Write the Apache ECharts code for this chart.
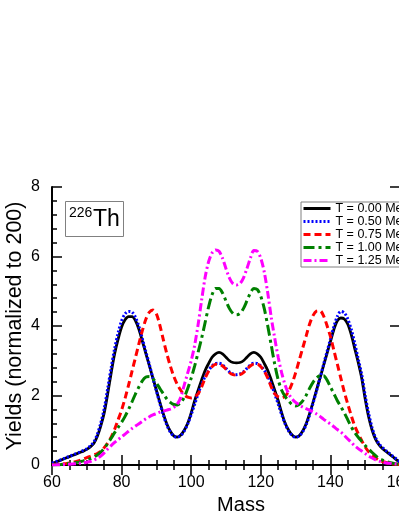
<!DOCTYPE html>
<html><head><meta charset="utf-8">
<script src="https://cdn.jsdelivr.net/npm/echarts@6/dist/echarts.min.js"></script>
<style>html,body{margin:0;padding:0;background:#fff}#c{width:399px;height:516px}</style>
</head><body><div id="c"></div>
<script>
const masses = [60,61,62,63,64,65,66,67,68,69,70,71,72,73,74,75,76,77,78,79,80,81,82,83,84,85,86,87,88,89,90,91,92,93,94,95,96,97,98,99,100,101,102,103,104,105,106,107,108,109,110,111,112,113,114,115,116,117,118,119,120,121,122,123,124,125,126,127,128,129,130,131,132,133,134,135,136,137,138,139,140,141,142,143,144,145,146,147,148,149,150,151,152,153,154,155,156,157,158,159,160];
const seriesNames = ['T = 0.00 MeV','T = 0.50 MeV','T = 0.75 MeV','T = 1.00 MeV','T = 1.25 MeV'];
const yT000 = [0.04,0.08,0.12,0.16,0.2,0.24,0.28,0.32,0.36,0.4,
 0.45,0.52,0.62,0.82,1.12,1.5,2.05,2.65,3.2,3.62,
 3.97,4.18,4.27,4.27,4.15,3.9,3.55,3.2,2.85,2.5,
 2.15,1.8,1.47,1.18,0.97,0.84,0.8,0.86,1.0,1.2,
 1.5,1.85,2.15,2.45,2.72,2.92,3.1,3.2,3.24,3.2,
 3.1,3.0,2.95,2.94,2.95,3.0,3.1,3.2,3.24,3.2,
 3.1,2.92,2.72,2.45,2.15,1.85,1.5,1.2,1.0,0.86,
 0.8,0.84,0.97,1.18,1.47,1.8,2.15,2.5,2.85,3.2,
 3.55,3.9,4.15,4.23,4.2,4.05,3.75,3.35,2.95,2.5,
 1.9,1.38,1.0,0.74,0.58,0.47,0.39,0.31,0.23,0.15,0.08];
const yT050 = [0.05,0.09,0.13,0.17,0.21,0.25,0.29,0.33,0.37,0.42,
 0.47,0.55,0.66,0.88,1.2,1.62,2.2,2.8,3.35,3.8,
 4.15,4.35,4.42,4.4,4.25,3.98,3.62,3.25,2.88,2.5,
 2.13,1.77,1.43,1.15,0.95,0.83,0.8,0.85,0.98,1.18,
 1.45,1.75,2.05,2.32,2.55,2.72,2.85,2.92,2.93,2.88,
 2.78,2.68,2.62,2.6,2.62,2.68,2.78,2.88,2.93,2.92,
 2.85,2.72,2.55,2.32,2.05,1.75,1.45,1.18,0.98,0.85,
 0.8,0.83,0.95,1.15,1.43,1.77,2.13,2.5,2.88,3.25,
 3.62,3.98,4.28,4.42,4.38,4.2,3.9,3.5,3.05,2.6,
 2.0,1.48,1.07,0.78,0.61,0.5,0.41,0.33,0.25,0.17,0.09];
const yT075 = [0.01,0.02,0.02,0.03,0.04,0.06,0.08,0.1,0.13,0.17,
 0.21,0.25,0.29,0.33,0.39,0.5,0.63,0.8,1.03,1.3,
 1.58,1.92,2.3,2.7,3.1,3.5,3.88,4.2,4.4,4.46,
 4.35,4.02,3.6,3.2,2.85,2.55,2.32,2.15,2.02,1.95,
 1.93,1.96,2.05,2.25,2.5,2.7,2.83,2.9,2.9,2.85,
 2.76,2.66,2.6,2.59,2.6,2.66,2.76,2.85,2.9,2.9,
 2.83,2.7,2.5,2.25,2.05,1.96,1.93,1.98,2.12,2.35,
 2.65,3.0,3.35,3.7,4.05,4.3,4.43,4.44,4.3,4.02,
 3.7,3.3,2.9,2.5,2.1,1.75,1.42,1.12,0.9,0.7,
 0.52,0.38,0.28,0.2,0.14,0.1,0.07,0.05,0.03,0.02,0.01];
const yT100 = [0.0,0.01,0.01,0.02,0.03,0.04,0.05,0.07,0.09,0.12,
 0.15,0.18,0.23,0.29,0.37,0.48,0.62,0.77,0.93,1.08,
 1.23,1.4,1.6,1.82,2.05,2.25,2.43,2.53,2.55,2.48,
 2.36,2.2,2.05,1.9,1.8,1.74,1.73,1.8,1.95,2.2,
 2.5,2.85,3.25,3.65,4.1,4.55,4.9,5.08,5.08,4.95,
 4.72,4.5,4.36,4.32,4.36,4.5,4.72,4.95,5.08,5.05,
 4.85,4.5,4.0,3.45,2.9,2.45,2.15,1.97,1.84,1.74,
 1.7,1.74,1.84,2.0,2.2,2.38,2.5,2.57,2.57,2.45,
 2.25,2.05,1.85,1.68,1.5,1.3,1.1,0.93,0.8,0.68,
 0.56,0.46,0.36,0.27,0.19,0.14,0.1,0.07,0.05,0.03,0.02];
const yT125 = [0.0,0.0,0.01,0.01,0.02,0.02,0.03,0.04,0.05,0.06,
 0.08,0.1,0.14,0.19,0.26,0.35,0.46,0.56,0.65,0.73,
 0.81,0.89,0.97,1.05,1.12,1.19,1.26,1.33,1.39,1.44,
 1.48,1.52,1.55,1.58,1.61,1.66,1.75,1.95,2.3,2.65,
 3.0,3.45,4.05,4.75,5.4,5.85,6.1,6.19,6.15,5.95,
 5.65,5.38,5.22,5.18,5.22,5.38,5.65,5.95,6.17,6.15,
 5.95,5.55,4.95,4.25,3.65,3.1,2.65,2.3,2.05,1.9,
 1.8,1.73,1.67,1.62,1.58,1.53,1.47,1.4,1.32,1.25,
 1.18,1.1,1.02,0.95,0.85,0.75,0.65,0.55,0.47,0.4,
 0.33,0.26,0.2,0.15,0.11,0.08,0.06,0.05,0.04,0.03,0.02];
const xTicks = [60,80,100,120,140,160];
const yTicks = [0,2,4,6,8];

const allY = [yT000,yT050,yT075,yT100,yT125];
const colors = ['#000000','#0000ff','#ff0000','#008000','#ff00ff'];
const dashes = ['solid',[2,2],[7,4],[11,4,3,4],[8,3,2,3]];
const widths = [2.8,3,3,3,3];

const chart = echarts.init(document.getElementById('c'), null, {renderer:'canvas'});
const FONT = 'Liberation Sans, Arial, sans-serif';
const axLine = {show:true,lineStyle:{color:'#000',width:2}};
const axTick = {show:true,inside:true,length:10,lineStyle:{color:'#000',width:1.5}};
chart.setOption({
  animation:false,
  backgroundColor:'#fff',
  grid:{left:52,top:187,width:348,height:278,containLabel:false,outerBoundsMode:'none'},
  xAxis:[
    {type:'value',min:xTicks[0],max:xTicks[xTicks.length-1],interval:20,position:'bottom',
      axisLine:axLine,axisTick:axTick,splitLine:{show:false},
      axisLabel:{show:true,margin:10,fontSize:16,color:'#000',fontFamily:FONT,
        formatter:v=>xTicks.indexOf(v)>=0?String(v):''},
      minorTick:{show:true,splitNumber:4,length:5,lineStyle:{color:'#000',width:1.5}}},
    {type:'value',min:60,max:160,interval:20,position:'top',
      axisLine:axLine,axisTick:axTick,axisLabel:{show:false},
      minorTick:{show:true,splitNumber:4,length:5,lineStyle:{color:'#000',width:1.5}},splitLine:{show:false}}
  ],
  yAxis:[
    {type:'value',min:yTicks[0],max:yTicks[yTicks.length-1],interval:2,position:'left',
      name:'Yields (normalized to 200)',nameLocation:'middle',nameGap:26,nameMoveOverlap:false,
      nameTextStyle:{fontSize:21.5,color:'#000',fontFamily:FONT},
      axisLine:axLine,axisTick:axTick,
      minorTick:{show:true,splitNumber:5,length:5,lineStyle:{color:'#000',width:1.5}},
      axisLabel:{show:true,margin:12,fontSize:16,color:'#000',fontFamily:FONT,
        formatter:v=>yTicks.indexOf(v)>=0?String(v):''},splitLine:{show:false}},
    {type:'value',min:0,max:8,interval:2,position:'right',
      axisLine:axLine,axisTick:axTick,axisLabel:{show:false},splitLine:{show:false}}
  ],
  legend:{
    orient:'vertical',left:301,top:202,padding:[0,20,0,1],itemGap:0,itemWidth:27,itemHeight:14.2,
    borderColor:'#808080',borderWidth:1,backgroundColor:'#fff',
    itemStyle:{opacity:0},
    lineStyle:{width:3},
    textStyle:{fontSize:12.5,color:'#000',fontFamily:FONT},
    data:seriesNames
  },
  series: allY.map((ys,i)=>({
    name:seriesNames[i],type:'line',xAxisIndex:0,yAxisIndex:0,
    data:masses.map((m,k)=>[m,ys[k]]),
    symbol:'none',smooth:0.3,
    lineStyle:{color:colors[i],width:widths[i],type:dashes[i]},
    itemStyle:{color:colors[i]},
    z:2+i
  })),
  graphic:[
    {type:'rect',shape:{x:65.5,y:201.5,width:58,height:35},style:{fill:'#fff',stroke:'#808080',lineWidth:1},z:10},
    {type:'text',x:69,y:213,style:{text:'226',font:'14px '+FONT,fill:'#000',verticalAlign:'middle'},z:11},
    {type:'text',x:93,y:220,style:{text:'Th',font:'23px '+FONT,fill:'#000',verticalAlign:'middle'},z:11},
    {type:'text',x:241,y:505,style:{text:'Mass',font:'20px '+FONT,fill:'#000',align:'center',verticalAlign:'middle'},z:11}
  ]
});
</script></body></html>
